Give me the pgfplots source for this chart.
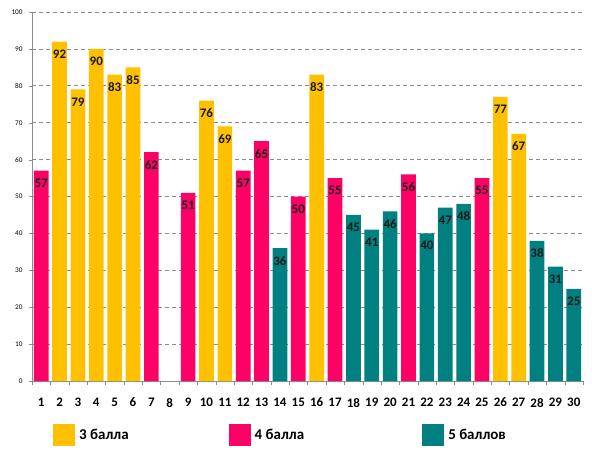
\documentclass[border=0pt]{standalone}
\usepackage{pgfplots}
\pgfplotsset{compat=1.18}
\usepackage{fontspec}
\setmainfont{Carlito}
\definecolor{cyel}{HTML}{FFC000}
\definecolor{cpink}{HTML}{FF0066}
\definecolor{cteal}{HTML}{008080}
\definecolor{cgrid}{HTML}{8C8C8C}
\begin{document}
\begin{tikzpicture}
\begin{axis}[
  name=ax,
  scale only axis,
  width=551pt, height=369pt,
  xmin=0.5, xmax=30.5, ymin=0, ymax=100,
  axis lines=left,
  axis line style={draw=cgrid, -},
  ytick={0,10,...,100},
  xtick={1,...,30},
  minor xtick={0.5,1.5,...,30.5},
  tick align=outside,
  major x tick style={draw=none},
  minor x tick style={draw=cgrid},
  minor tick length=4pt,
  major tick length=3pt,
  y tick style={draw=cgrid},
  ymajorgrids,
  grid style={draw=cgrid, dash pattern=on 4pt off 3pt, line width=0.8pt},
  /pgf/number format/assume math mode=true,
  yticklabel style={font=\fontsize{7.2}{8}\selectfont, xshift=-3pt},
  xticklabel style={font=\fontsize{13}{14}\selectfont\bfseries, yshift=-10.5pt},
  nodes near coords,
  every node near coord/.append style={anchor=north, yshift=-4.5pt, font=\fontsize{13}{14}\selectfont\bfseries, text=black!90},
  legend columns=3,
  legend style={at={(axis description cs:0.038,-0.146)}, anchor=west, draw=none, fill=none, inner xsep=0pt, inner ysep=0pt,
    font=\fontsize{15}{16}\selectfont\bfseries, /tikz/every odd column/.append style={column sep=0pt}},
  legend image code/.code={\fill[#1, draw=none] (0pt,-11pt) rectangle (22pt,11pt);},
  clip=false,
]
\addplot[ybar, bar width=0.8, bar shift=0pt, fill=cyel, draw=none] coordinates {
(2,92) (3,79) (4,90) (5,83) (6,85) (10,76) (11,69) (16,83) (26,77) (27,67)};
\addlegendentry{\hspace*{2pt}3 балла\hspace*{98pt}}
\addplot[ybar, bar width=0.8, bar shift=0pt, fill=cpink, draw=none] coordinates {
(1,57) (7,62) (9,51) (12,57) (13,65) (15,50) (17,55) (21,56) (25,55)};
\addlegendentry{\hspace*{2pt}4 балла\hspace*{116pt}}
\addplot[ybar, bar width=0.8, bar shift=0pt, fill=cteal, draw=none] coordinates {
(14,36) (18,45) (19,41) (20,46) (22,40) (23,47) (24,48) (28,38) (29,31) (30,25)};
\addlegendentry{\hspace*{2pt}5 баллов}
\end{axis}
\path (-32pt,-75pt) rectangle (560pt,381pt);
\end{tikzpicture}
\end{document}
